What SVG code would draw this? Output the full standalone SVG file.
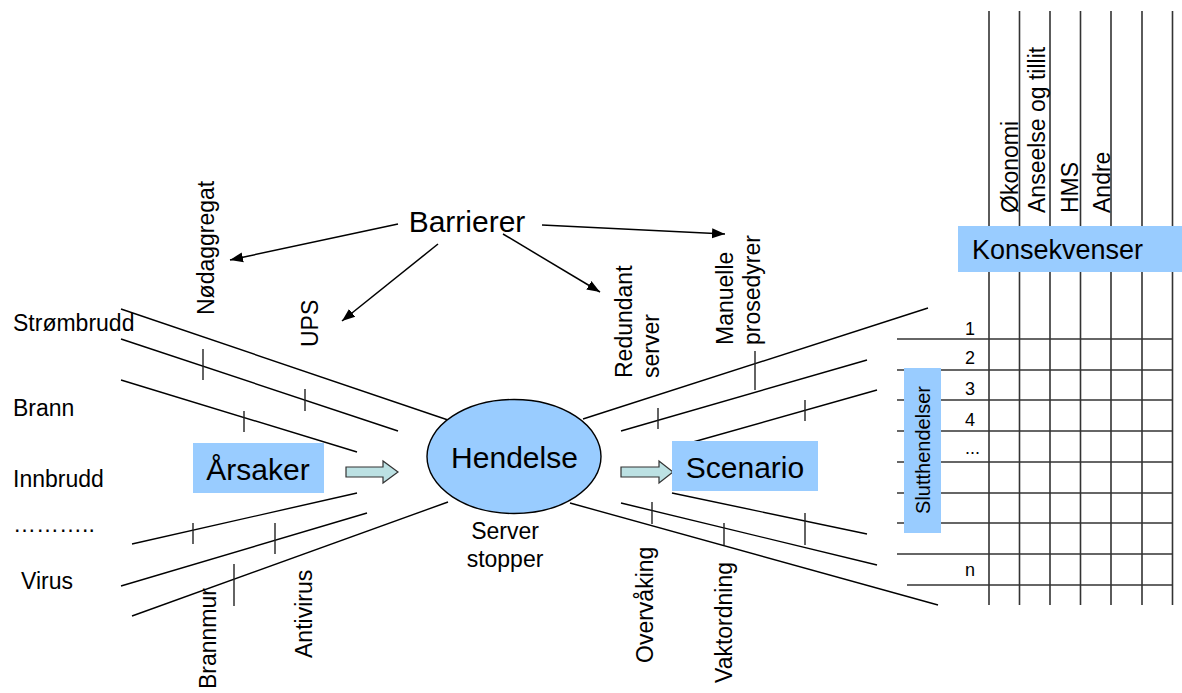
<svg xmlns="http://www.w3.org/2000/svg" width="1182" height="693" viewBox="0 0 1182 693">
  <style>
    text { font-family: "Liberation Sans", Arial, sans-serif; fill: #000; }
    .lbl { font-size: 23px; }
    .big { font-size: 30px; }
    .num { font-size: 18px; }
    .ln { stroke: #000; stroke-width: 1.4; fill: none; }
    .tick { stroke: #222; stroke-width: 1.4; }
    .grid { stroke: #333; stroke-width: 1.6; }
    .box { fill: #99CCFF; stroke: none; }
    .blk { fill: #BCE1E3; stroke: #333; stroke-width: 1.2; }
    .arr { stroke: #000; stroke-width: 1.5; fill: none; marker-end: url(#head); }
  </style>
  <defs>
    <marker id="head" markerUnits="userSpaceOnUse" markerWidth="14" markerHeight="12" refX="13" refY="6" orient="auto">
      <path d="M0,1 L13,6 L0,11 Z" fill="#000"/>
    </marker>
  </defs>

  <rect width="1182" height="693" fill="#fff"/>

  <!-- consequence matrix -->
  <g id="matrix">
    <g class="grid">
      <line x1="989" y1="11" x2="989" y2="605"/>
      <line x1="1019.5" y1="11" x2="1019.5" y2="605"/>
      <line x1="1050" y1="11" x2="1050" y2="605"/>
      <line x1="1080.5" y1="11" x2="1080.5" y2="605"/>
      <line x1="1111" y1="11" x2="1111" y2="605"/>
      <line x1="1142" y1="11" x2="1142" y2="605"/>
      <line x1="1172.5" y1="11" x2="1172.5" y2="605"/>
      <line x1="897" y1="339" x2="1173" y2="339"/>
      <line x1="897" y1="370" x2="1173" y2="370"/>
      <line x1="897" y1="400" x2="1173" y2="400"/>
      <line x1="897" y1="431" x2="1173" y2="431"/>
      <line x1="897" y1="462" x2="1173" y2="462"/>
      <line x1="897" y1="493" x2="1173" y2="493"/>
      <line x1="897" y1="523" x2="1173" y2="523"/>
      <line x1="897" y1="554" x2="1173" y2="554"/>
      <line x1="907" y1="585" x2="1173" y2="585"/>
    </g>
    <text class="lbl" transform="translate(1018,213) rotate(-90)">Økonomi</text>
    <text class="lbl" transform="translate(1045,213) rotate(-90)">Anseelse og tillit</text>
    <text class="lbl" transform="translate(1078,213) rotate(-90)">HMS</text>
    <text class="lbl" transform="translate(1110,213) rotate(-90)">Andre</text>
    <text class="num" x="965" y="335">1</text>
    <text class="num" x="965" y="364">2</text>
    <text class="num" x="965" y="395">3</text>
    <text class="num" x="965" y="426">4</text>
    <text class="num" x="965" y="454">...</text>
    <text class="num" x="965" y="576">n</text>
  </g>

  <g id="konsekvenser">
    <rect class="box" x="958" y="226" width="224" height="46"/>
    <text x="972" y="259" font-size="27">Konsekvenser</text>
  </g>

  <g id="slutthendelser">
    <rect class="box" x="904" y="368" width="37" height="165"/>
    <text transform="translate(930,450) rotate(-90)" font-size="20" text-anchor="middle">Slutthendelser</text>
  </g>

  <!-- bow-tie lines with barrier ticks -->
  <g id="connectors">
    <line class="ln" x1="121" y1="309" x2="448" y2="420"/>
    <line class="ln" x1="121" y1="339" x2="398" y2="431"/>
    <line class="ln" x1="121" y1="380" x2="357" y2="452"/>
    <line class="ln" x1="132" y1="544" x2="357" y2="493"/>
    <line class="ln" x1="121" y1="586" x2="367" y2="513"/>
    <line class="ln" x1="132" y1="616" x2="448" y2="502"/>

    <line class="ln" x1="583" y1="419" x2="928" y2="308"/>
    <line class="ln" x1="621" y1="431" x2="867" y2="360"/>
    <line class="ln" x1="693" y1="442" x2="877" y2="390"/>
    <line class="ln" x1="672" y1="493" x2="867" y2="534"/>
    <line class="ln" x1="621" y1="503" x2="877" y2="565"/>
    <line class="ln" x1="570" y1="503" x2="938" y2="605"/>

    <line class="tick" x1="203" y1="349" x2="203" y2="380"/>
    <line class="tick" x1="305" y1="389" x2="305" y2="411"/>
    <line class="tick" x1="244" y1="411" x2="244" y2="432"/>
    <line class="tick" x1="193" y1="523" x2="193" y2="544"/>
    <line class="tick" x1="275" y1="523" x2="275" y2="554"/>
    <line class="tick" x1="234" y1="564" x2="234" y2="606"/>

    <line class="tick" x1="658" y1="408" x2="658" y2="429"/>
    <line class="tick" x1="755" y1="351" x2="755" y2="390"/>
    <line class="tick" x1="805" y1="400" x2="805" y2="421"/>
    <line class="tick" x1="652" y1="502" x2="652" y2="524"/>
    <line class="tick" x1="724" y1="523" x2="724" y2="545"/>
    <line class="tick" x1="805" y1="513" x2="805" y2="545"/>

    <!-- barrier pointers -->
    <line class="arr" x1="398" y1="224" x2="230" y2="260"/>
    <line class="arr" x1="438" y1="244" x2="342" y2="321"/>
    <line class="arr" x1="503" y1="234" x2="600" y2="292"/>
    <line class="arr" x1="542" y1="225" x2="725" y2="234"/>

    <!-- block arrows -->
    <polygon class="blk" points="346,467 383,467 383,461 398,472 383,483 383,477 346,477"/>
    <polygon class="blk" points="621,467 659,467 659,461 673,472 659,483 659,477 621,477"/>
  </g>

  <g id="barrierer">
    <text class="big" x="467" y="232" text-anchor="middle">Barrierer</text>
  </g>

  <g id="barrier-labels">
    <text class="lbl" transform="translate(214,315) rotate(-90)">Nødaggregat</text>
    <text class="lbl" transform="translate(318,347) rotate(-90)">UPS</text>
    <text class="lbl" transform="translate(632,378) rotate(-90)">Redundant</text>
    <text class="lbl" transform="translate(659,378) rotate(-90)">server</text>
    <text class="lbl" transform="translate(733,345) rotate(-90)">Manuelle</text>
    <text class="lbl" transform="translate(760,345) rotate(-90)">prosedyrer</text>
    <text class="lbl" transform="translate(216,689) rotate(-90)">Brannmur</text>
    <text class="lbl" transform="translate(312,658) rotate(-90)">Antivirus</text>
    <text class="lbl" transform="translate(653,663) rotate(-90)">Overvåking</text>
    <text class="lbl" transform="translate(732,683) rotate(-90)">Vaktordning</text>
  </g>

  <g id="causes">
    <text class="lbl" x="13" y="331">Strømbrudd</text>
    <text class="lbl" x="13" y="416">Brann</text>
    <text class="lbl" x="13" y="487">Innbrudd</text>
    <text class="lbl" x="13" y="532">………..</text>
    <text class="lbl" x="21" y="589">Virus</text>
  </g>

  <g id="arsaker">
    <rect class="box" x="193" y="443" width="131" height="50"/>
    <text class="big" x="258" y="480" text-anchor="middle">Årsaker</text>
  </g>

  <g id="hendelse">
    <ellipse cx="514" cy="456.5" rx="87" ry="57" fill="#99CCFF" stroke="#000" stroke-width="1.4"/>
    <text class="big" x="514.5" y="468" text-anchor="middle">Hendelse</text>
    <text class="lbl" x="505" y="539" text-anchor="middle">Server</text>
    <text class="lbl" x="505" y="567" text-anchor="middle">stopper</text>
  </g>

  <g id="scenario">
    <rect class="box" x="672" y="441" width="146" height="50"/>
    <text class="big" x="745" y="478" text-anchor="middle">Scenario</text>
  </g>
</svg>
